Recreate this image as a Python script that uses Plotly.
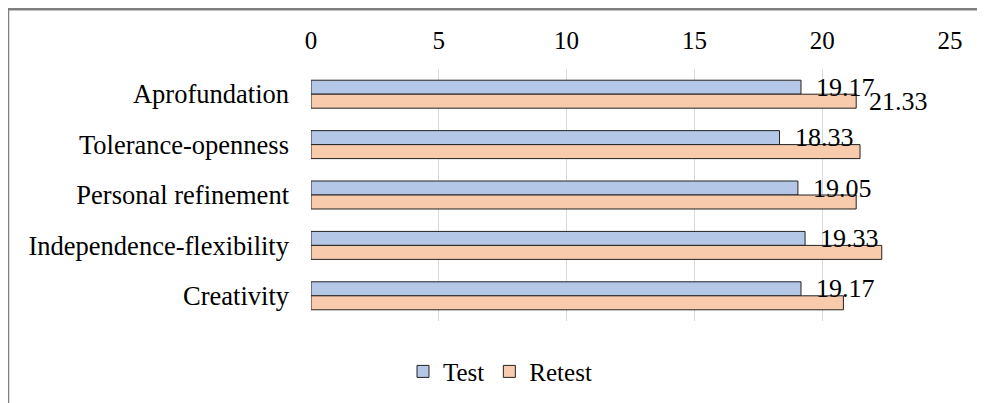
import plotly.graph_objects as go

categories = ["Aprofundation", "Tolerance-openness", "Personal refinement",
              "Independence-flexibility", "Creativity"]
test_values = [19.17, 18.33, 19.05, 19.33, 19.17]
retest_values = [21.33, 21.48, 21.33, 22.33, 20.83]
test_labels = ["19.17", "18.33", "19.05", "19.33", "19.17"]
retest_labels = ["21.33", "", "", "", ""]
x_ticks = [0, 5, 10, 15, 20, 25]

FONT = "'Liberation Serif', 'Times New Roman', serif"
# the page body has an 8px margin, so the figure is sized/shifted to compensate
OFF = 8
W, H = 985 - OFF, 403 - OFF
ML, MR, MT, MB = 311 - OFF, 35, 68.75 - OFF, 403 - 321.25
pw, ph = W - ML - MR, H - MT - MB

fig = go.Figure()
fig.add_trace(go.Bar(
    y=categories, x=test_values, name="Test", orientation="h",
    marker=dict(color="#B4C7E7", line=dict(color="#222222", width=1)),
))
fig.add_trace(go.Bar(
    y=categories, x=retest_values, name="Retest", orientation="h",
    marker=dict(color="#F8CBAD", line=dict(color="#222222", width=1)),
))

annotations = []
for cat, v, lab in zip(categories, test_values, test_labels):
    if lab:
        annotations.append(dict(x=v, y=cat, xref="x", yref="y", text=lab,
                                showarrow=False, xanchor="left", yanchor="middle",
                                xshift=13, yshift=7,
                                font=dict(family=FONT, size=26, color="#000000")))
for cat, v, lab in zip(categories, retest_values, retest_labels):
    if lab:
        annotations.append(dict(x=v, y=cat, xref="x", yref="y", text=lab,
                                showarrow=False, xanchor="left", yanchor="middle",
                                xshift=11, yshift=-7,
                                font=dict(family=FONT, size=26, color="#000000")))


def px_x(p):
    return (p - OFF - ML) / pw


def px_y(p):
    return (H - MB - (p - OFF)) / ph


shapes = [
    dict(type="line", xref="paper", yref="paper", x0=px_x(8), x1=px_x(990),
         y0=px_y(9), y1=px_y(9), line=dict(color="#7F7F7F", width=2.5)),
    dict(type="line", xref="paper", yref="paper", x0=px_x(8), x1=px_x(8),
         y0=px_y(9), y1=px_y(410), line=dict(color="#7F7F7F", width=2.5)),
]

fig.update_layout(
    width=W, height=H,
    margin=dict(l=ML, r=MR, t=MT, b=MB, pad=0, autoexpand=False),
    paper_bgcolor="white", plot_bgcolor="white",
    barmode="group", bargap=0.445, bargroupgap=0,
    font=dict(family=FONT, size=26, color="#000000"),
    xaxis=dict(side="top", range=[0, 25], tickvals=x_ticks,
               showgrid=True, gridcolor="#D9D9D9", gridwidth=1,
               zeroline=False, showline=False, ticks="",
               ticklabelstandoff=14,
               tickfont=dict(family=FONT, size=25, color="#000000")),
    yaxis=dict(autorange="reversed", categoryorder="array", categoryarray=categories,
               showgrid=False, zeroline=False, showline=False, ticks="",
               ticklabelstandoff=21,
               tickfont=dict(family=FONT, size=26.5, color="#000000")),
    legend=dict(orientation="h", x=px_x(500), xanchor="center",
                y=px_y(372), yanchor="middle",
                font=dict(family=FONT, size=25, color="#000000"),
                itemwidth=30, bgcolor="rgba(0,0,0,0)"),
    annotations=annotations,
    shapes=shapes,
    showlegend=True,
)

fig.write_html("out.html")
